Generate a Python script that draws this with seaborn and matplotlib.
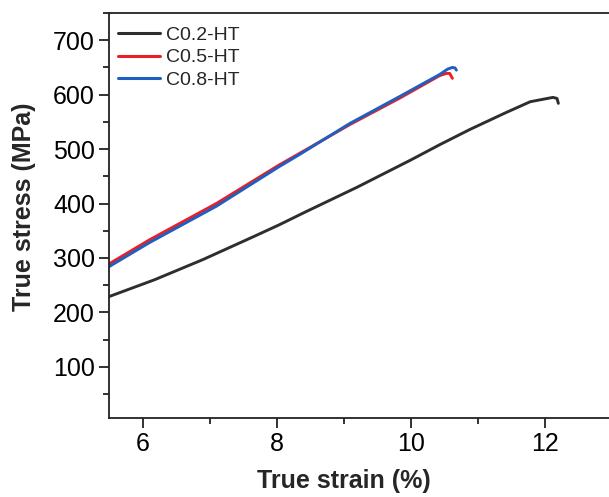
import numpy as np
import pandas as pd
import matplotlib
matplotlib.use("Agg")
import matplotlib.pyplot as plt
import seaborn as sns
from matplotlib.ticker import MultipleLocator

sns.set_style("ticks")
plt.rcParams['font.family'] = ['Liberation Sans', 'DejaVu Sans']

labels = ["C0.2-HT", "C0.5-HT", "C0.8-HT"]
colors = ["#2e2e2e", "#ea1f26", "#1f5fbf"]

strain_c02 = [5.5, 6.18, 6.9, 7.67, 8.04, 8.42, 9.2, 10.0, 10.43, 10.88, 11.4, 11.78, 11.95, 12.12, 12.18, 12.2]
stress_c02 = [229, 260, 297, 340, 361, 384, 430, 480, 508, 536, 566, 587, 591, 595, 593, 584]

strain_c05 = [5.5, 6.1, 7.1, 8.04, 8.34, 9.09, 9.84, 10.43, 10.53, 10.58, 10.62]
stress_c05 = [289, 333, 400, 471, 492, 545, 594, 635, 639, 639, 630]

strain_c08 = [5.5, 6.1, 7.1, 8.04, 8.34, 9.09, 9.84, 10.43, 10.55, 10.62, 10.66, 10.68]
stress_c08 = [284, 328, 395, 468, 490, 547, 597, 637, 647, 650, 649, 645]

frames = []
for lab, xs, ys in zip(labels, [strain_c02, strain_c05, strain_c08], [stress_c02, stress_c05, stress_c08]):
    frames.append(pd.DataFrame({"strain": xs, "stress": ys, "sample": lab}))
df = pd.concat(frames, ignore_index=True)

fig = plt.figure(figsize=(6.09, 4.97), dpi=100)
ax = fig.add_axes([109/609, 1-418/497, 500/609, 405/497])

sns.lineplot(data=df, x="strain", y="stress", hue="sample", hue_order=labels,
             palette=colors, sort=False, estimator=None, linewidth=2.1, ax=ax)

ax.set_xlim(5.5, 12.955)
ax.set_ylim(6, 750)
ax.xaxis.set_major_locator(MultipleLocator(2))
ax.xaxis.set_minor_locator(MultipleLocator(1))
ax.set_yticks([100, 200, 300, 400, 500, 600, 700])
ax.yaxis.set_minor_locator(MultipleLocator(50))

for s in ["left", "bottom", "top"]:
    ax.spines[s].set_linewidth(1.3)
    ax.spines[s].set_color("#222222")
ax.spines["right"].set_visible(False)

ax.tick_params(which="major", direction="out", length=7, width=1.3, labelsize=18, colors="#222222", pad=3)
ax.tick_params(which="minor", direction="out", length=4, width=1.3, colors="#222222")
ax.tick_params(axis="both", labelcolor="black")

ax.set_xlabel("True strain (%)", fontsize=18, fontweight="bold")
ax.set_ylabel("True stress (MPa)", fontsize=18, fontweight="bold")
ax.xaxis.set_label_coords(0.47, -0.125)
ax.yaxis.set_label_coords(-0.145, 0.522)

leg = ax.legend(loc="upper left", bbox_to_anchor=(0.018, 0.968), frameon=False,
                fontsize=14, handlelength=2.15, handletextpad=0.3, labelspacing=0.27,
                borderaxespad=0, borderpad=0)
for line in leg.get_lines():
    line.set_linewidth(2.2)

fig.savefig("out.png", dpi=100)
